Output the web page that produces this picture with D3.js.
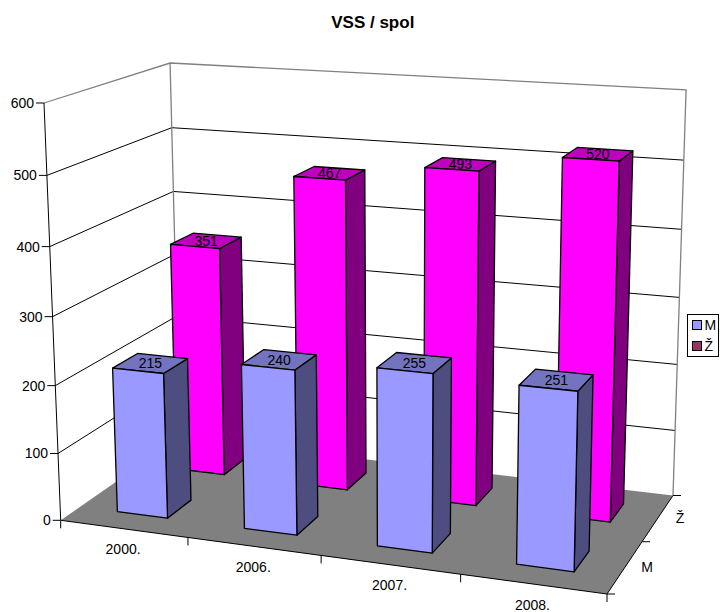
<!DOCTYPE html>
<html>
<head>
<meta charset="utf-8">
<script src="https://cdn.jsdelivr.net/npm/d3@7"></script>
<style>
  html, body { margin: 0; padding: 0; background: #fff; }
  svg { display: block; }
  text { font-family: "Liberation Sans", Arial, sans-serif; fill: #000; }
</style>
</head>
<body>
<div id="chart"></div>
<script>
const categories = ['2000.', '2006.', '2007.', '2008.'];
const seriesNames = ['M', 'Ž'];
const valuesM = [215, 240, 255, 251];
const valuesZ = [351, 467, 493, 520];
const yTicks = [0, 100, 200, 300, 400, 500, 600];

const seriesColors = {
  'M': { front: '#9999ff', side: '#4d4d80', top: '#7373bf' },
  'Ž': { front: '#ff00ff', side: '#800080', top: '#bf00bf' }
};
const legendColors = { 'M': '#9999ff', 'Ž': '#993366' };

const width = 720, height = 612;
const svg = d3.select('#chart').append('svg').attr('width', width).attr('height', height);

// scales work in a unit box, the camera below takes it to the screen
const x = d3.scaleBand().domain(categories).range([0, 1]).paddingInner(0.6).paddingOuter(0.3);
const z = d3.scaleBand().domain(seriesNames).range([0, 1]).paddingInner(0.6).paddingOuter(0.3);
const y = d3.scaleLinear().domain([0, 600]).range([0, 1]);

// camera: floor corners (front left, front right, back right, back left) and the axis top
const floorQuad = [[60.7, 520.3], [607, 594], [673, 495.5], [179.7, 437.5]];
const axisTop = [44, 103];
const topScale = 0.953;

function makeCamera(q, t, s) {
  const dx1 = q[1][0] - q[2][0], dx2 = q[3][0] - q[2][0], sx = q[0][0] - q[1][0] + q[2][0] - q[3][0];
  const dy1 = q[1][1] - q[2][1], dy2 = q[3][1] - q[2][1], sy = q[0][1] - q[1][1] + q[2][1] - q[3][1];
  const den = dx1 * dy2 - dx2 * dy1;
  const g = (sx * dy2 - dx2 * sy) / den, h = (dx1 * sy - sx * dy1) / den;
  const a = q[1][0] - q[0][0] + g * q[1][0], b = q[3][0] - q[0][0] + h * q[3][0], c = q[0][0];
  const d = q[1][1] - q[0][1] + g * q[1][1], e = q[3][1] - q[0][1] + h * q[3][1], f = q[0][1];
  return (px, py, pz) => {
    const w = g * px + h * pz + 1 + py * (s - 1);
    return [
      (a * px + b * pz + c + py * (s * t[0] - c)) / w,
      (d * px + e * pz + f + py * (s * t[1] - f)) / w
    ];
  };
}
const project = makeCamera(floorQuad, axisTop, topScale);
const line = d3.line();

function drawLine(pts, color, sw) {
  svg.append('path').attr('d', line(pts)).attr('fill', 'none')
    .attr('stroke', color).attr('stroke-width', sw || 1);
}

// gridlines on the two walls
yTicks.slice(1, -1).forEach(t => {
  drawLine([project(0, y(t), 0), project(0, y(t), 1), project(1, y(t), 1)], '#000');
});
// wall outline
drawLine([project(0, 1, 0), project(0, 1, 1), project(1, 1, 1), project(1, 0, 1)], '#808080', 1.3);
drawLine([project(0, 1, 1), project(0, 0, 1)], '#808080', 1.3);

// floor
svg.append('path')
  .attr('d', line([project(0, 0, 0), project(1, 0, 0), project(1, 0, 1), project(0, 0, 1)]) + 'Z')
  .attr('fill', '#808080');

// bars: back row first
function drawBar(name, cat, value) {
  const x0 = x(cat), x1 = x0 + x.bandwidth();
  const z0 = z(name), z1 = z0 + z.bandwidth();
  const h = y(value);
  const col = seriesColors[name];
  const g = svg.append('g').attr('stroke', '#000').attr('stroke-width', 1.3).attr('stroke-linejoin', 'round');
  g.append('path').attr('fill', col.side)
    .attr('d', line([project(x1, 0, z0), project(x1, 0, z1), project(x1, h, z1), project(x1, h, z0)]) + 'Z');
  g.append('path').attr('fill', col.top)
    .attr('d', line([project(x0, h, z0), project(x1, h, z0), project(x1, h, z1), project(x0, h, z1)]) + 'Z');
  g.append('path').attr('fill', col.front)
    .attr('d', line([project(x0, 0, z0), project(x1, 0, z0), project(x1, h, z0), project(x0, h, z0)]) + 'Z');
}
const rows = [
  { name: 'Ž', values: valuesZ },
  { name: 'M', values: valuesM }
];
rows.forEach(r => {
  categories.forEach((c, i) => drawBar(r.name, c, r.values[i]));
});

// value labels sit on the bar tops
rows.forEach(r => {
  categories.forEach((c, i) => {
    const p = project(x(c) + x.bandwidth() / 2, y(r.values[i]), z(r.name) + z.bandwidth() / 2);
    svg.append('text').attr('x', p[0]).attr('y', p[1] + 5)
      .attr('text-anchor', 'middle').attr('font-size', 14).text(r.values[i]);
  });
});

// value axis
drawLine([project(0, 1, 0), project(0, 0, 0)], '#000');
yTicks.forEach(t => {
  const p = project(0, y(t), 0);
  drawLine([[p[0] - 8, p[1]], p], '#000');
  svg.append('text').attr('x', p[0] - 10).attr('y', p[1] + 5)
    .attr('text-anchor', 'end').attr('font-size', 14).text(t);
});

// category axis
drawLine([project(0, 0, 0), project(1, 0, 0)], '#000');
d3.range(categories.length + 1).forEach(i => {
  const p = project(x.step() * i, 0, 0);
  drawLine([p, [p[0], p[1] + 8]], '#000');
});
categories.forEach((c, i) => {
  const p = project(x.step() * (i + 0.5), 0, 0);
  svg.append('text').attr('x', p[0] - 0.5).attr('y', p[1] + 25.5)
    .attr('text-anchor', 'middle').attr('font-size', 14).text(c);
});

// depth axis
drawLine([project(1, 0, 0), project(1, 0, 1)], '#000');
d3.range(seriesNames.length + 1).forEach(i => {
  const p = project(1, 0, z.step() * i);
  drawLine([p, [p[0] + 8, p[1]]], '#000');
});
seriesNames.forEach((s, i) => {
  const p = project(1, 0, z.step() * (i + 0.5));
  svg.append('text').attr('x', p[0] + 22).attr('y', p[1] + 5)
    .attr('text-anchor', 'middle').attr('font-size', 14).text(s);
});

// title
svg.append('text').attr('x', 372.8).attr('y', 27.5).attr('text-anchor', 'middle')
  .attr('font-size', 17).attr('font-weight', 'bold').text('VSS / spol');

// legend
const legend = svg.append('g').attr('transform', 'translate(687.5,314.5)');
legend.append('rect').attr('width', 31).attr('height', 42).attr('fill', '#fff').attr('stroke', '#000');
seriesNames.forEach((s, i) => {
  legend.append('rect').attr('x', 5).attr('y', 6 + i * 21).attr('width', 9).attr('height', 9)
    .attr('fill', legendColors[s]).attr('stroke', '#000');
  legend.append('text').attr('x', 17).attr('y', 15.5 + i * 21).attr('font-size', 14).text(s);
});
</script>
</body>
</html>
